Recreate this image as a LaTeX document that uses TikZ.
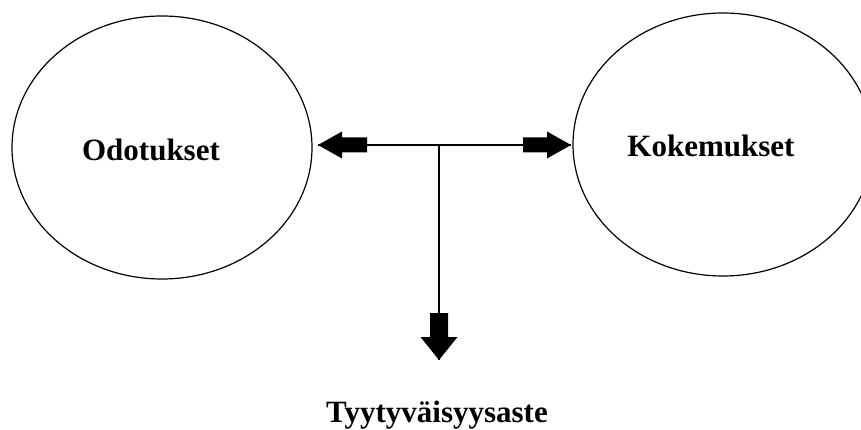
\documentclass[tikz,border=0pt]{standalone}
\usepackage{fontspec}
\setmainfont{Liberation Serif}
\usetikzlibrary{shapes.geometric}
\begin{document}
\begin{tikzpicture}[x=1pt,y=-1pt,
  circ/.style={draw=black,line width=1.2pt,ellipse,minimum width=300pt,minimum height=263pt,inner sep=0pt},
  lbl/.style={font=\fontsize{31}{36}\selectfont\bfseries,inner sep=0pt},
  conn/.style={draw=black,line width=1.4pt},
  blockarrow/.style={fill=black}]
\useasboundingbox (0,0) rectangle (861,430);
\node[circ] (odo) at (162,147.5) {};
\node[circ] (kok) at (723,144.5) {};
\node[lbl] (todo) at (151,150) {Odotukset};
\node[lbl] (tkok) at (711,146) {Kokemukset};
\node[lbl,anchor=base] (ttyy) at (437,422) {Tyytyväisyysaste};
\coordinate (j) at (439,145);
\coordinate (lt) at (318,145);
\coordinate (rt) at (571,145);
\coordinate (dt) at (439,360);
\draw[conn] (lt) -- (rt);
\draw[conn] (j) -- (dt);
% left block arrow
\fill[blockarrow] (lt) -- ++(24,-13.5) -- ++(0,6) -- ++(25,0) -- ++(0,15) -- ++(-25,0) -- ++(0,6) -- cycle;
% right block arrow
\fill[blockarrow] (rt) -- ++(-24,-13.5) -- ++(0,6) -- ++(-24,0) -- ++(0,15) -- ++(24,0) -- ++(0,6) -- cycle;
% down block arrow
\fill[blockarrow] (dt) -- ++(-18.5,-23) -- ++(9.5,0) -- ++(0,-24) -- ++(18,0) -- ++(0,24) -- ++(9.5,0) -- cycle;
\end{tikzpicture}
\end{document}
